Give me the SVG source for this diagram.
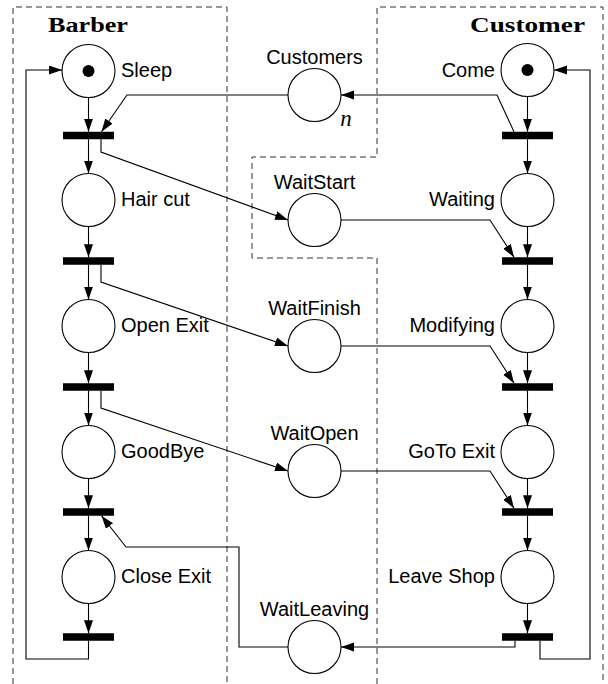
<svg xmlns="http://www.w3.org/2000/svg" width="608" height="684" viewBox="0 0 608 684">
<style>
.pl{fill:#fff;stroke:#000;stroke-width:1.1}
.tok{fill:#000}
.tr{fill:#000}
.c{fill:none;stroke:#000;stroke-width:1.1}
.ca{fill:none;stroke:#000;stroke-width:1.1;marker-end:url(#ah)}
.lb{font-family:"Liberation Sans",Arial,sans-serif;font-size:20px;fill:#000}
.mid{text-anchor:middle}
.end{text-anchor:end}
.ttl{font-family:"Liberation Serif","Times New Roman",serif;font-weight:bold;font-size:21px;fill:#000}
.box{fill:none;stroke:#333;stroke-width:1;stroke-dasharray:6 4}
</style>
<defs>
<marker id="ah" markerUnits="userSpaceOnUse" markerWidth="14" markerHeight="10" refX="13" refY="4.5" orient="auto">
<path d="M0,0 L13,4.5 L0,9 z" fill="#000"/>
</marker>
</defs>
<g id="regions">
<path class="box" d="M13,684 L13,7 L227,7 L227,684"/>
<path class="box" d="M377,684 L377,258 L252,258 L252,157 L377,157 L377,7 L603,7 L603,684"/>
<text class="ttl" x="48" y="32" textLength="80" lengthAdjust="spacingAndGlyphs">Barber</text>
<text class="ttl" x="470" y="32" textLength="115" lengthAdjust="spacingAndGlyphs">Customer</text>
</g>
<g id="connectors">
<path class="ca" d="M88.5,97.5 L88.5,131.75"/>
<path class="ca" d="M88.5,139.25 L88.5,173.5"/>
<path class="ca" d="M88.5,226.5 L88.5,257.25"/>
<path class="ca" d="M88.5,264.75 L88.5,299.5"/>
<path class="ca" d="M88.5,352.5 L88.5,383.25"/>
<path class="ca" d="M88.5,390.75 L88.5,425.5"/>
<path class="ca" d="M88.5,478.5 L88.5,508.25"/>
<path class="ca" d="M88.5,515.75 L88.5,550.5"/>
<path class="ca" d="M88.5,603.5 L88.5,633.25"/>
<path class="ca" d="M88.5,640.75 L88.5,659 L26,659 L26,70 L62,70"/>
<path class="ca" d="M527.5,96.5 L527.5,131.75"/>
<path class="ca" d="M527.5,139.25 L527.5,173.5"/>
<path class="ca" d="M527.5,226.5 L527.5,257.25"/>
<path class="ca" d="M527.5,264.75 L527.5,299.5"/>
<path class="ca" d="M527.5,352.5 L527.5,383.25"/>
<path class="ca" d="M527.5,390.75 L527.5,425.5"/>
<path class="ca" d="M527.5,478.5 L527.5,508.25"/>
<path class="ca" d="M527.5,515.75 L527.5,550.5"/>
<path class="ca" d="M527.5,603.5 L527.5,633.25"/>
<path class="ca" d="M540,640.75 L540,659 L590,659 L590,70 L554,70"/>
<path class="ca" d="M514,131.75 L497,95 L341,95"/>
<path class="ca" d="M288,95 L127,95 L101.5,131.75"/>
<path class="ca" d="M101,139.25 L101,152 L288,220"/>
<path class="ca" d="M341,220 L490,220 L514,257.25"/>
<path class="ca" d="M101,264.75 L101,282 L288,346"/>
<path class="ca" d="M341,346 L490,346 L514,383.25"/>
<path class="ca" d="M101,390.75 L101,408 L288,471"/>
<path class="ca" d="M341,471 L490,471 L514,508.25"/>
<path class="ca" d="M515,640.75 L515,647 L341,647"/>
<path class="ca" d="M288,647 L239,647 L239,547 L126,547 L101.5,515.75"/>
</g>
<g id="barber-places">
<g id="p-sleep"><circle class="pl" cx="88.5" cy="71" r="26.5"/><circle class="tok" cx="88.5" cy="71" r="6"/><text class="lb" x="121" y="77">Sleep</text></g>
<g id="p-haircut"><circle class="pl" cx="88.5" cy="200" r="26.5"/><text class="lb" x="121" y="206">Hair cut</text></g>
<g id="p-openexit"><circle class="pl" cx="88.5" cy="326" r="26.5"/><text class="lb" x="121" y="332">Open Exit</text></g>
<g id="p-goodbye"><circle class="pl" cx="88.5" cy="452" r="26.5"/><text class="lb" x="121" y="458">GoodBye</text></g>
<g id="p-closeexit"><circle class="pl" cx="88.5" cy="577" r="26.5"/><text class="lb" x="121" y="583">Close Exit</text></g>
</g>
<g id="barber-transitions">
<rect id="tb1" class="tr" x="63" y="131.75" width="51" height="7.5"/>
<rect id="tb2" class="tr" x="63" y="257.25" width="51" height="7.5"/>
<rect id="tb3" class="tr" x="63" y="383.25" width="51" height="7.5"/>
<rect id="tb4" class="tr" x="63" y="508.25" width="51" height="7.5"/>
<rect id="tb5" class="tr" x="63" y="633.25" width="51" height="7.5"/>
</g>
<g id="customer-places">
<g id="p-come"><circle class="pl" cx="527.5" cy="70" r="26.5"/><circle class="tok" cx="527.5" cy="70" r="6"/><text class="lb end" x="495" y="77">Come</text></g>
<g id="p-waiting"><circle class="pl" cx="527.5" cy="200" r="26.5"/><text class="lb end" x="495" y="206">Waiting</text></g>
<g id="p-modifying"><circle class="pl" cx="527.5" cy="326" r="26.5"/><text class="lb end" x="495" y="332">Modifying</text></g>
<g id="p-gotoexit"><circle class="pl" cx="527.5" cy="452" r="26.5"/><text class="lb end" x="495" y="458">GoTo Exit</text></g>
<g id="p-leaveshop"><circle class="pl" cx="527.5" cy="577" r="26.5"/><text class="lb end" x="495" y="583">Leave Shop</text></g>
</g>
<g id="customer-transitions">
<rect id="tc1" class="tr" x="502" y="131.75" width="51" height="7.5"/>
<rect id="tc2" class="tr" x="502" y="257.25" width="51" height="7.5"/>
<rect id="tc3" class="tr" x="502" y="383.25" width="51" height="7.5"/>
<rect id="tc4" class="tr" x="502" y="508.25" width="51" height="7.5"/>
<rect id="tc5" class="tr" x="502" y="633.25" width="51" height="7.5"/>
</g>
<g id="shared-places">
<g id="p-customers"><circle class="pl" cx="314.5" cy="95" r="26.5"/><text class="lb mid" x="314.5" y="64">Customers</text><text x="346" y="126" font-family="Liberation Serif,serif" font-style="italic" font-size="23" text-anchor="middle">n</text></g>
<g id="p-waitstart"><circle class="pl" cx="314.5" cy="220" r="26.5"/><text class="lb mid" x="314.5" y="189">WaitStart</text></g>
<g id="p-waitfinish"><circle class="pl" cx="314.5" cy="346" r="26.5"/><text class="lb mid" x="314.5" y="315">WaitFinish</text></g>
<g id="p-waitopen"><circle class="pl" cx="314.5" cy="471" r="26.5"/><text class="lb mid" x="314.5" y="440">WaitOpen</text></g>
<g id="p-waitleaving"><circle class="pl" cx="314.5" cy="647" r="26.5"/><text class="lb mid" x="314.5" y="616">WaitLeaving</text></g>
</g>
</svg>
